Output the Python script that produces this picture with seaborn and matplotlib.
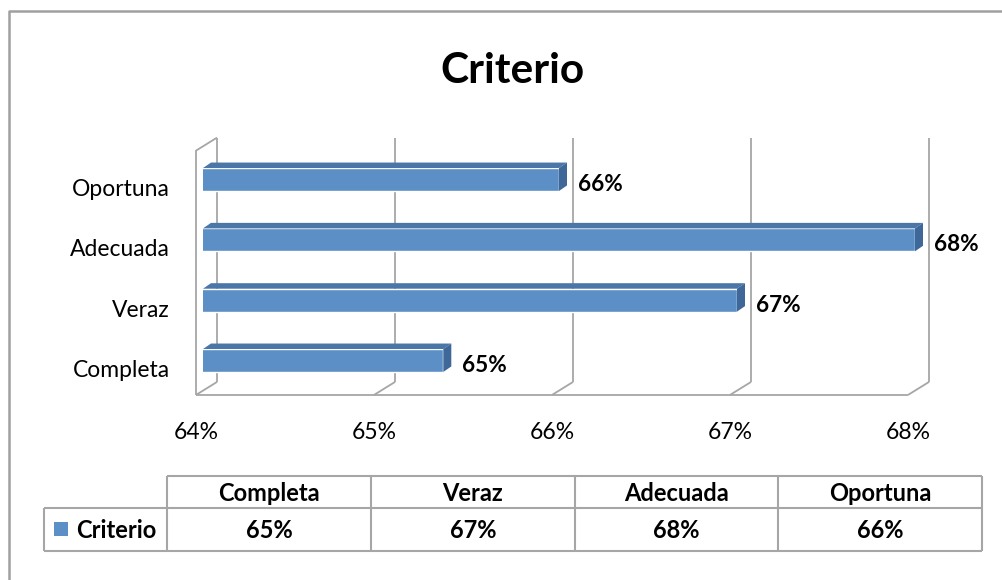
import numpy as np
import pandas as pd
import matplotlib
matplotlib.use("Agg")
import matplotlib.pyplot as plt
import seaborn as sns
from matplotlib.transforms import IdentityTransform, offset_copy
from matplotlib.patches import Polygon, Rectangle
from matplotlib.lines import Line2D

# ---------------- data ----------------
categories = ["Oportuna", "Adecuada", "Veraz", "Completa"]
values = [66.0, 68.0, 67.0, 65.35]
table_categories = ["Completa", "Veraz", "Adecuada", "Oportuna"]
x_ticks = [64, 65, 66, 67, 68]
tick_labels = ["64%", "65%", "66%", "67%", "68%"]
series_name = "Criterio"
title_text = "Criterio"

# ---------------- style ----------------
sns.set_theme(style="white")
plt.rcParams['font.family'] = ['Lato', 'DejaVu Sans']

W, H = 1002, 580
fig = plt.figure(figsize=(W / 100, H / 100), dpi=100)
fig.patch.set_facecolor('white')

FRONT = '#5B8FC6'
TOP = '#4B76A8'
SIDE = '#3F6798'
GRID = '#A6A6A6'
ID = IdentityTransform()

# axes region (pixels, image coords)
ax_l, ax_r = 203, 915
ax_t, ax_b = 149.35, 390.65
ax = fig.add_axes([ax_l / W, 1 - ax_b / H, (ax_r - ax_l) / W, (ax_b - ax_t) / H])
df = pd.DataFrame({"cat": categories, "val": values})
sns.barplot(data=df, x="val", y="cat", orient="h", color=FRONT, width=0.38,
            saturation=1, ax=ax, zorder=3)
ax.set_xlim(x_ticks[0], x_ticks[-1])
ax.set_ylim(len(categories) - 0.5, -0.5)
ax.patch.set_visible(False)
for s in ax.spines.values():
    s.set_visible(False)
ax.set_xticks([])
ax.set_yticks([])
ax.set_xlabel("")
ax.set_ylabel("")

FRONT_OFF = (-7, -4.3)
BACK_OFF = (14, 8.7)
DEPTH = (8, 5.5)
floor = len(categories) - 0.5
wall_top = -0.55


def P(x, y, off=(0, 0)):
    X, Y = ax.transData.transform((x, y))
    return (X + off[0], Y + off[1])


def line(pts, color=GRID, lw=1.3, z=-2):
    xs, ys = zip(*pts)
    fig.add_artist(Line2D(xs, ys, transform=ID, color=color, lw=lw, zorder=z,
                          solid_capstyle='butt'))


# back wall gridlines
for x in x_ticks:
    line([P(x, floor, BACK_OFF), P(x, wall_top, BACK_OFF)])
    line([P(x, floor, FRONT_OFF), P(x, floor, BACK_OFF)])
# floor front edge
line([P(x_ticks[0], floor, FRONT_OFF), P(x_ticks[-1], floor, FRONT_OFF)])
# left wall
line([P(x_ticks[0], floor, FRONT_OFF), P(x_ticks[0], wall_top, FRONT_OFF),
      P(x_ticks[0], wall_top, BACK_OFF)])

# 3D faces for the bars
x0 = x_ticks[0]
for p in ax.patches:
    x1 = p.get_x() + p.get_width()
    yt = p.get_y()
    yb = p.get_y() + p.get_height()
    A = P(x0, yt); B = P(x1, yt); E = P(x1, yb)
    top = [A, B, (B[0] + DEPTH[0], B[1] + DEPTH[1]), (A[0] + DEPTH[0], A[1] + DEPTH[1])]
    side = [B, E, (E[0] + DEPTH[0], E[1] + DEPTH[1]), (B[0] + DEPTH[0], B[1] + DEPTH[1])]
    fig.add_artist(Polygon(top, closed=True, transform=ID, facecolor=TOP,
                           edgecolor='none', zorder=2))
    fig.add_artist(Polygon(side, closed=True, transform=ID, facecolor=SIDE,
                           edgecolor='none', zorder=2))

# data labels
lab_tr = offset_copy(ax.transData, fig=fig, x=19, y=-11.5, units='dots')
for i, v in enumerate(values):
    ax.text(v, i, f"{round(v)}%", transform=lab_tr, ha='left', va='baseline',
            fontsize=16.2, fontweight='bold', color='black', clip_on=False)

# x tick labels (front plane)
for x, t in zip(x_ticks, tick_labels):
    X, _ = P(x, floor, FRONT_OFF)
    fig.text(X, H - 439, t, transform=ID, ha='center', va='baseline',
             fontsize=16.5, color='black')

# category labels
for i, c in enumerate(categories):
    _, Y = P(x0, i)
    fig.text(170, Y - 16.5, c, transform=ID, ha='right', va='baseline',
             fontsize=16.5, color='black')

# title
fig.text(512, H - 83, title_text, transform=ID, ha='center', va='baseline',
         fontsize=30.5, fontweight='bold', color='black')

# ---------------- data table ----------------
TB = '#A6A6A6'
col_x = [167, 371, 575, 778, 982]
y_top, y_mid, y_bot = 476, 508, 551
line([(col_x[0], H - y_top), (col_x[-1], H - y_top)], color=TB, lw=1.5, z=1)
line([(44, H - y_mid), (col_x[-1], H - y_mid)], color=TB, lw=1.5, z=1)
line([(44, H - y_bot), (col_x[-1], H - y_bot)], color=TB, lw=1.5, z=1)
line([(44, H - y_mid), (44, H - y_bot)], color=TB, lw=1.5, z=1)
for cx in col_x:
    line([(cx, H - y_top), (cx, H - y_bot)], color=TB, lw=1.5, z=1)

for j, c in enumerate(table_categories):
    cx = (col_x[j] + col_x[j + 1]) / 2
    v = values[categories.index(c)]
    fig.text(cx, H - 501, c, transform=ID, ha='center', va='baseline',
             fontsize=17, fontweight='bold', color='black')
    fig.text(cx, H - 538, f"{round(v)}%", transform=ID, ha='center', va='baseline',
             fontsize=17, fontweight='bold', color='black')

fig.add_artist(Rectangle((54, H - 536), 14, 14, transform=ID, facecolor=FRONT,
                         edgecolor='none', zorder=2))
fig.text(76, H - 538, series_name, transform=ID, ha='left', va='baseline',
         fontsize=17, fontweight='bold', color='black')

# outer chart border
line([(8.5, 0), (8.5, H - 11), (W, H - 11)], color='#A0A0A0', lw=1.8, z=1)

fig.savefig("out.png", dpi=100, facecolor='white')
